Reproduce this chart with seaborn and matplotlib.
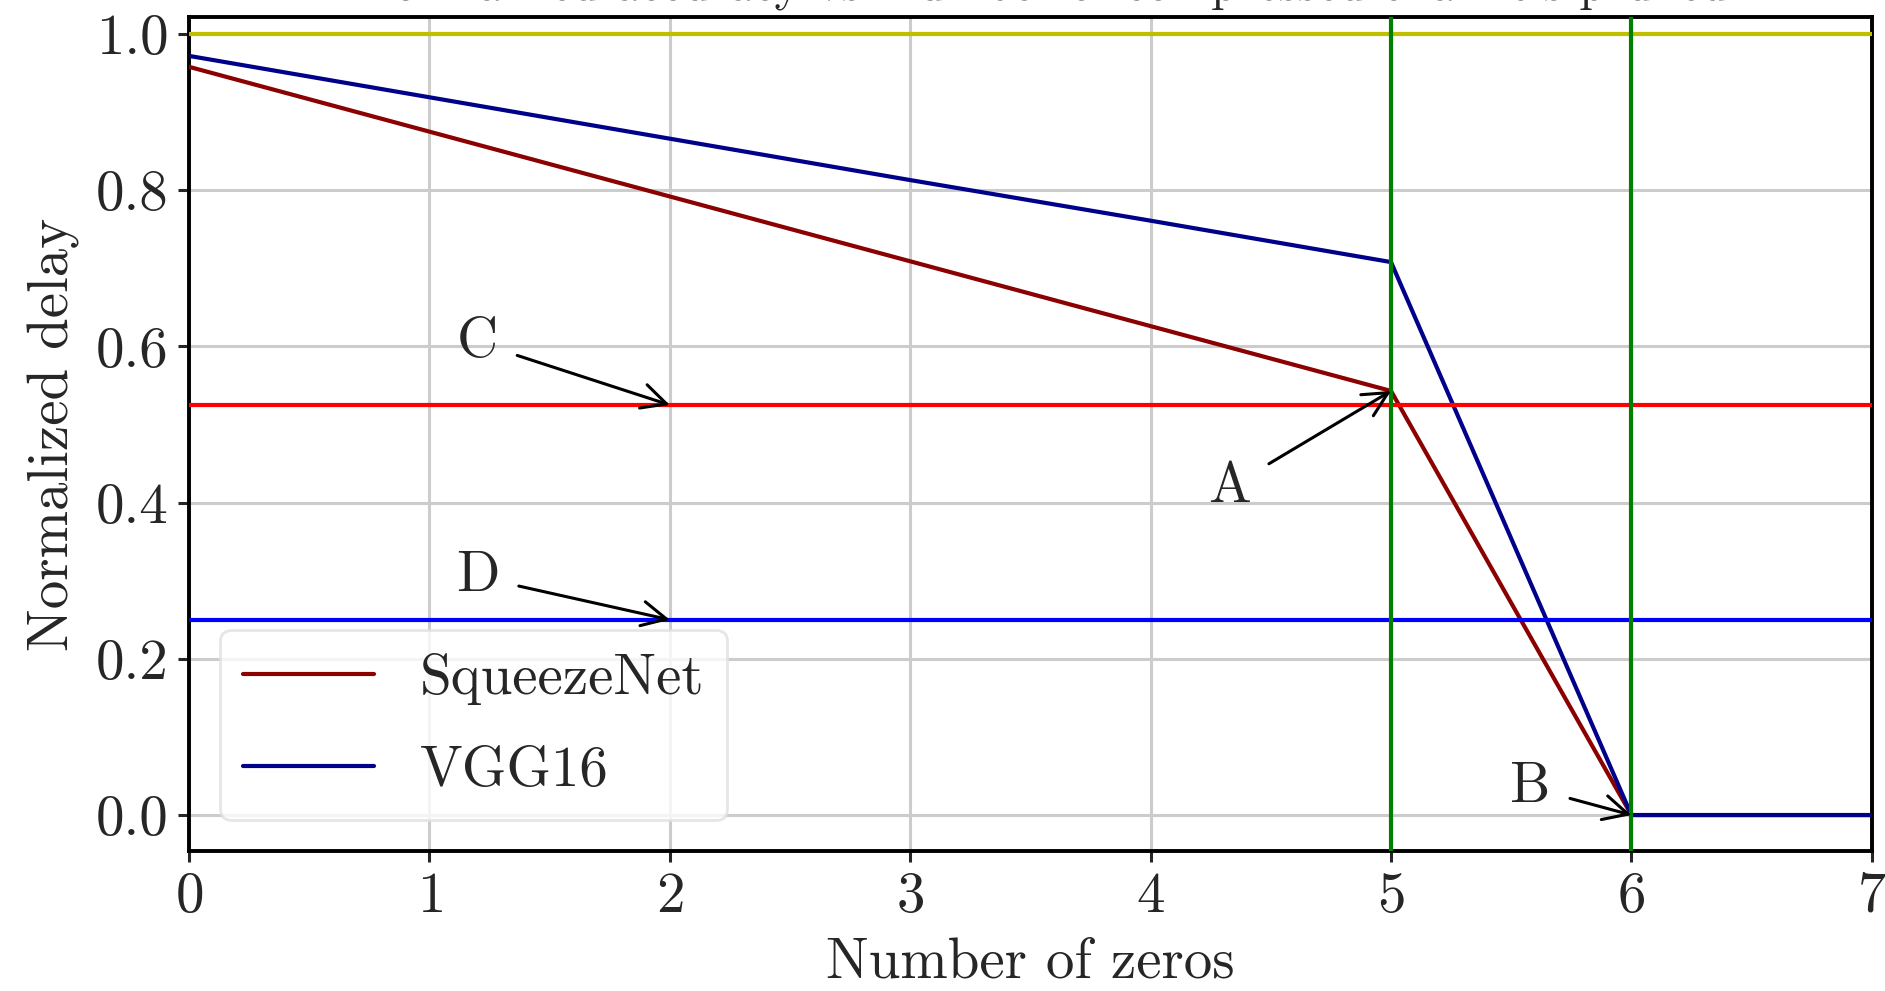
import pandas as pd
import matplotlib.pyplot as plt
import seaborn as sns

# --- Data ---
zeros = [0, 1, 2, 3, 4, 5, 6, 7]
squeezenet_delay = [0.958, 0.875, 0.792, 0.709, 0.626, 0.543, 0.0, 0.0]
vgg16_delay = [0.972, 0.919, 0.866, 0.813, 0.761, 0.708, 0.0, 0.0]

ref_levels = [1.0, 0.525, 0.25]
ref_colors = ['y', 'r', 'b']
marker_zeros = [5, 6]

# annotation labels: (label, text x, text y, arrow target x, arrow target y)
annot_labels = ['C', 'D', 'A', 'B']
annot_text_xy = [(1.2, 0.605), (1.2, 0.305), (4.33, 0.42), (5.58, 0.035)]
annot_target_xy = [(2.0, 0.525), (2.0, 0.25), (5.0, 0.543), (6.0, 0.0)]

title_text = "Normalized accuracy vs. number of compressed channels pruned"

df = pd.DataFrame({
    'zeros': zeros * 2,
    'delay': squeezenet_delay + vgg16_delay,
    'model': ['SqueezeNet'] * len(zeros) + ['VGG16'] * len(zeros),
})

# --- Style ---
sns.set_style("ticks")
plt.rcParams['font.family'] = ['cmr10', 'DejaVu Serif']
plt.rcParams['mathtext.fontset'] = 'cm'
plt.rcParams['axes.formatter.use_mathtext'] = True
plt.rcParams['axes.unicode_minus'] = False

FS = 41

fig = plt.figure(figsize=(18.85, 9.91), dpi=100)
ax = fig.add_axes([0.1003, 0.1413, 0.8927, 0.8417])

sns.lineplot(data=df, x='zeros', y='delay', hue='model',
             palette={'SqueezeNet': 'darkred', 'VGG16': 'darkblue'},
             linewidth=3, ax=ax, zorder=3)

for level, col in zip(ref_levels, ref_colors):
    ax.axhline(level, color=col, linewidth=3, zorder=4)
for xz in marker_zeros:
    ax.axvline(xz, color='g', linewidth=3, zorder=5)

for lab, txy, axy in zip(annot_labels, annot_text_xy, annot_target_xy):
    ax.annotate(lab, xy=axy, xytext=txy, fontsize=FS, ha='center', va='center',
                arrowprops=dict(arrowstyle='->', color='black', lw=2.2,
                                shrinkA=12, shrinkB=0, mutation_scale=44), zorder=6)

ax.set_xlim(0, 7)
ax.set_ylim(-0.046, 1.022)
ax.set_xticks(range(0, 8))
ax.set_yticks([0.0, 0.2, 0.4, 0.6, 0.8, 1.0])
ax.set_yticklabels(['0.0', '0.2', '0.4', '0.6', '0.8', '1.0'])
ax.tick_params(labelsize=FS, length=8, width=2.2, direction='out', pad=7)
ax.grid(True, color='#cccccc', linewidth=2.2, zorder=0)
for sp in ax.spines.values():
    sp.set_linewidth(2.8)
    sp.set_color('black')

ax.set_xlabel("Number of zeros", fontsize=FS, labelpad=10)
ax.set_ylabel("Normalized delay", fontsize=FS, labelpad=11)

# title sits almost entirely above the canvas, as in the cropped reference
fig.text(0.553, 1.0 + 1.0 / 991, title_text, fontsize=35, ha='center', va='baseline')

leg = ax.legend(loc='lower left', fontsize=FS, frameon=True, fancybox=True,
                framealpha=0.8, borderaxespad=0.55, handlelength=2.3,
                labelspacing=0.72)
leg.get_frame().set_linewidth(2)
leg.get_frame().set_edgecolor('#e0e0e0')
for h in leg.get_lines():
    h.set_linewidth(3)

fig.savefig("out.png", dpi=100)
